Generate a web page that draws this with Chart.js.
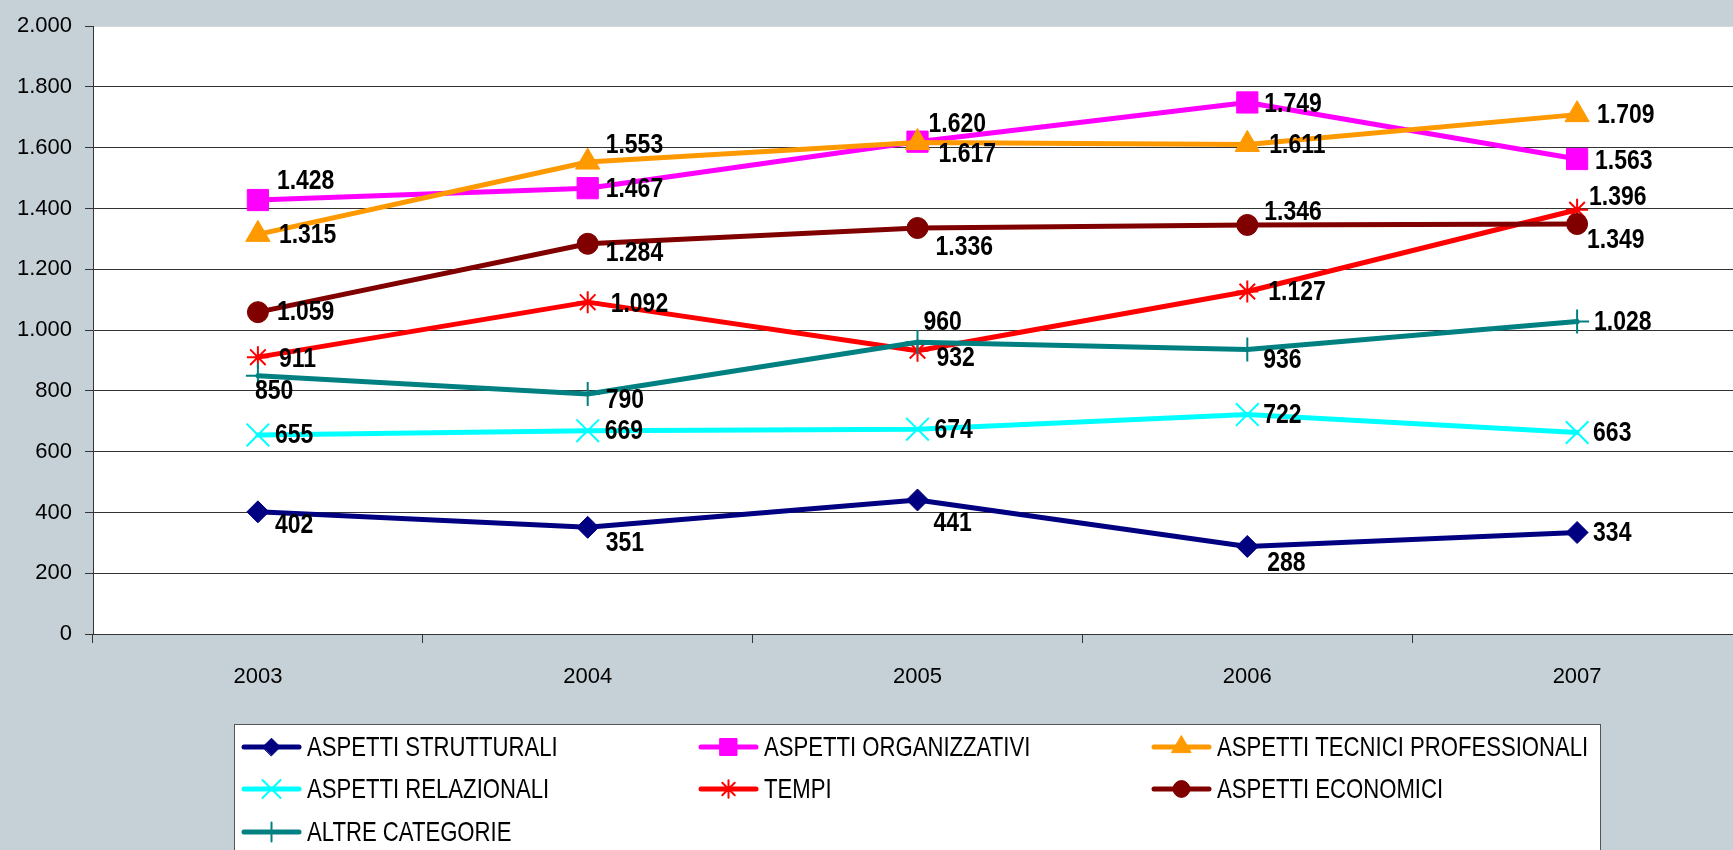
<!DOCTYPE html>
<html>
<head>
<meta charset="utf-8">
<script src="https://cdn.jsdelivr.net/npm/chart.js@4"></script>
<style>
  html,body{margin:0;padding:0;background:#c5d0d7;overflow:hidden;}
  #wrap{position:relative;width:1760px;height:850px;}
</style>
</head>
<body>
<div id="wrap"><canvas id="c"></canvas></div>
<script>
// data
var years = ['2003','2004','2005','2006','2007'];
var yTicks = [0,200,400,600,800,1000,1200,1400,1600,1800,2000];
var strutturali   = [402, 351, 441, 288, 334];
var organizzativi = [1428, 1467, 1620, 1749, 1563];
var tecnici       = [1315, 1553, 1617, 1611, 1709];
var relazionali   = [655, 669, 674, 722, 663];
var tempi         = [911, 1092, 932, 1127, 1396];
var economici     = [1059, 1284, 1336, 1346, 1349];
var altre         = [850, 790, 960, 936, 1028];

// label nudges (px, relative to the point) - layout only
var nudges = [
  [[17,12],[18,15],[16,22],[20,16],[16,0]],
  [[19,-20],[18,0],[11,-18],[17,1],[18,1]],
  [[21,0],[18,-18],[21,11],[22,0],[20,0]],
  [[17,-1],[17,0],[17,0],[16,0],[16,0]],
  [[21,1],[23,1],[19,7],[21,0],[12,-13]],
  [[19,-1],[18,8],[18,18],[17,-14],[10,15]],
  [[-3,15],[18,5],[6,-21],[16,10],[17,0]]
];

function fmt(v){ return String(v).replace(/\B(?=(\d{3})+(?!\d))/g,'.'); }

function series(label, data, color, style, radius, bw){
  return {label:label, data:data, borderColor:color, backgroundColor:color,
    borderWidth:5, borderCapStyle:'round', borderJoinStyle:'round', tension:0,
    pointStyle:style, pointRadius:radius, pointHoverRadius:radius,
    pointBorderColor:color, pointBackgroundColor:color, pointBorderWidth:bw};
}

var datasets = [
  series('ASPETTI STRUTTURALI', strutturali, '#000080', 'rectRot', 11, 1),
  series('ASPETTI ORGANIZZATIVI', organizzativi, '#ff00ff', 'rect', 15, 1),
  series('ASPETTI TECNICI PROFESSIONALI', tecnici, '#ff9900', 'triangle', 14, 1),
  series('ASPETTI RELAZIONALI', relazionali, '#00ffff', 'crossRot', 16, 2),
  series('TEMPI', tempi, '#ff0000', 'star', 11, 2),
  series('ASPETTI ECONOMICI', economici, '#800000', 'circle', 10.5, 1),
  series('ALTRE CATEGORIE', altre, '#008080', 'cross', 12, 2)
];
datasets.forEach(function(d,i){ d.order = -i; });

var plotBg = {
  id:'plotBg',
  beforeDraw:function(chart){
    var a=chart.chartArea, ctx=chart.ctx;
    ctx.save(); ctx.fillStyle='#ffffff';
    ctx.fillRect(a.left,a.top,a.right-a.left,a.bottom-a.top);
    ctx.restore();
  }
};

var valueLabels = {
  id:'valueLabels',
  afterDatasetsDraw:function(chart){
    var ctx=chart.ctx;
    ctx.save();
    ctx.font='bold 28px "Liberation Sans", Arial, sans-serif';
    ctx.fillStyle='#000'; ctx.textAlign='left'; ctx.textBaseline='middle';
    chart.data.datasets.forEach(function(ds,i){
      chart.getDatasetMeta(i).data.forEach(function(pt,j){
        var n=nudges[i][j];
        ctx.save();
        ctx.translate(pt.x+n[0], pt.y+n[1]+1);
        ctx.scale(0.82,1);
        ctx.fillText(fmt(ds.data[j]),0,0);
        ctx.restore();
      });
    });
    ctx.restore();
  }
};

var boxLegend = {
  id:'boxLegend',
  afterDraw:function(chart){
    var ctx=chart.ctx;
    var cols=[242,699,1152], rows=[747,789,832], lineLen=59;
    ctx.save();
    ctx.fillStyle='#ffffff'; ctx.strokeStyle='#555'; ctx.lineWidth=1;
    ctx.fillRect(234.5,724.5,1366,140);
    ctx.strokeRect(234.5,724.5,1366,140);
    chart.data.datasets.forEach(function(ds,i){
      var x=cols[i%3], y=rows[Math.floor(i/3)];
      ctx.strokeStyle=ds.borderColor; ctx.lineWidth=5; ctx.lineCap='round';
      ctx.beginPath(); ctx.moveTo(x+2,y); ctx.lineTo(x+lineLen-2,y); ctx.stroke();
      ctx.fillStyle=ds.pointBackgroundColor; ctx.strokeStyle=ds.pointBorderColor;
      ctx.lineWidth=ds.pointBorderWidth;
      Chart.helpers.drawPoint(ctx,{pointStyle:ds.pointStyle,radius:ds.pointRadius*0.8,rotation:0,borderWidth:ds.pointBorderWidth},x+lineLen/2,y);
      ctx.save();
      ctx.fillStyle='#000'; ctx.font='28px "Liberation Sans", Arial, sans-serif';
      ctx.textAlign='left'; ctx.textBaseline='middle';
      ctx.translate(x+lineLen+6,y+1); ctx.scale(0.79,1);
      ctx.fillText(ds.label,0,0);
      ctx.restore();
    });
    ctx.restore();
  }
};

new Chart(document.getElementById('c'),{
  type:'line',
  data:{labels:years, datasets:datasets},
  options:{
    responsive:true, maintainAspectRatio:false, animation:false,
    layout:{padding:{top:24,right:16,bottom:156,left:0}},
    plugins:{legend:{display:false}, tooltip:{enabled:false}},
    scales:{
      x:{
        offset:true,
        grid:{offset:true, drawOnChartArea:false, tickLength:9, color:'#333'},
        border:{color:'#333', width:1},
        ticks:{color:'#000', padding:21, font:{family:'"Liberation Sans", Arial, sans-serif', size:22}},
        afterFit:function(s){ s.height=60; }
      },
      y:{
        min:0, max:2000,
        afterBuildTicks:function(s){ s.ticks=yTicks.map(function(v){return {value:v};}); },
        grid:{color:function(c){ return c.tick && c.tick.value===2000 ? '#d8d8d8' : '#333'; }, tickLength:8, tickColor:'#333'},
        border:{color:'#333', width:1},
        ticks:{color:'#000', padding:13, font:{family:'"Liberation Sans", Arial, sans-serif', size:22},
          callback:function(v){ return fmt(v); }},
        afterFit:function(s){ s.width=93; }
      }
    }
  },
  plugins:[plotBg, valueLabels, boxLegend]
});
</script>
</body>
</html>
